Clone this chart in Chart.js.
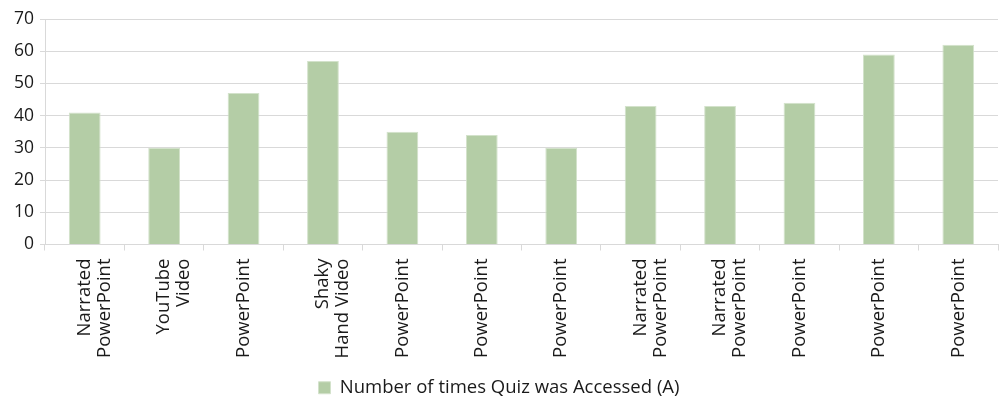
<!DOCTYPE html>
<html>
<head>
<meta charset="utf-8">
<script src="https://cdn.jsdelivr.net/npm/chart.js@4"></script>
<style>
  html, body { margin: 0; padding: 0; background: #fff; }
  #wrap { width: 999px; height: 400px; }
</style>
</head>
<body>
<div id="wrap"><canvas id="quizChart"></canvas></div>
<script>
const labels = [
    ["Narrated", "PowerPoint"],
    ["YouTube", "Video"],
    "PowerPoint",
    ["Shaky", "Hand Video"],
    "PowerPoint",
    "PowerPoint",
    "PowerPoint",
    ["Narrated", "PowerPoint"],
    ["Narrated", "PowerPoint"],
    "PowerPoint",
    "PowerPoint",
    "PowerPoint"
];
const accessed = [41, 30, 47, 57, 35, 34, 30, 43, 43, 44, 59, 62];
const yTicks = [0, 10, 20, 30, 40, 50, 60, 70];

document.addEventListener("DOMContentLoaded", () => {
    const ctx = document.getElementById("quizChart").getContext("2d");
    Chart.defaults.font.family = "'Open Sans', sans-serif";
    Chart.defaults.color = "#1a1a1a";

    new Chart(ctx, {
        type: "bar",
        data: {
            labels: labels,
            datasets: [{
                label: "Number of times Quiz was Accessed (A)",
                data: accessed,
                backgroundColor: "#b4cda6",
                borderColor: "#d3e2cb",
                borderWidth: 1,
                barPercentage: 0.4,
                categoryPercentage: 1.0
            }]
        },
        options: {
            responsive: true,
            maintainAspectRatio: false,
            animation: false,
            layout: { padding: { top: 19, right: 1, left: 0, bottom: -7 } },
            plugins: {
                legend: {
                    position: "bottom",
                    labels: {
                        boxWidth: 12,
                        boxHeight: 12,
                        padding: 2,
                        font: { size: 18.5 }
                    }
                },
                tooltip: { enabled: false }
            },
            scales: {
                x: {
                    grid: { drawOnChartArea: false, drawTicks: true, tickLength: 6, color: "#d9d9d9" },
                    border: { color: "#d9d9d9", width: 1 },
                    ticks: { minRotation: 90, maxRotation: 90, autoSkip: false, font: { size: 18.5, lineHeight: 1.08 }, padding: 8 },
                    afterFit: (scale) => { scale.height = 132; }
                },
                y: {
                    min: 0,
                    max: 70,
                    afterBuildTicks: (scale) => { scale.ticks = yTicks.map(v => ({ value: v })); },
                    grid: { color: "#d9d9d9", tickLength: 5 },
                    border: { color: "#d9d9d9" },
                    ticks: { font: { size: 17.5 }, padding: 6 },
                    afterFit: (scale) => { scale.width = 45; }
                }
            }
        }
    });
});
</script>
</body>
</html>
